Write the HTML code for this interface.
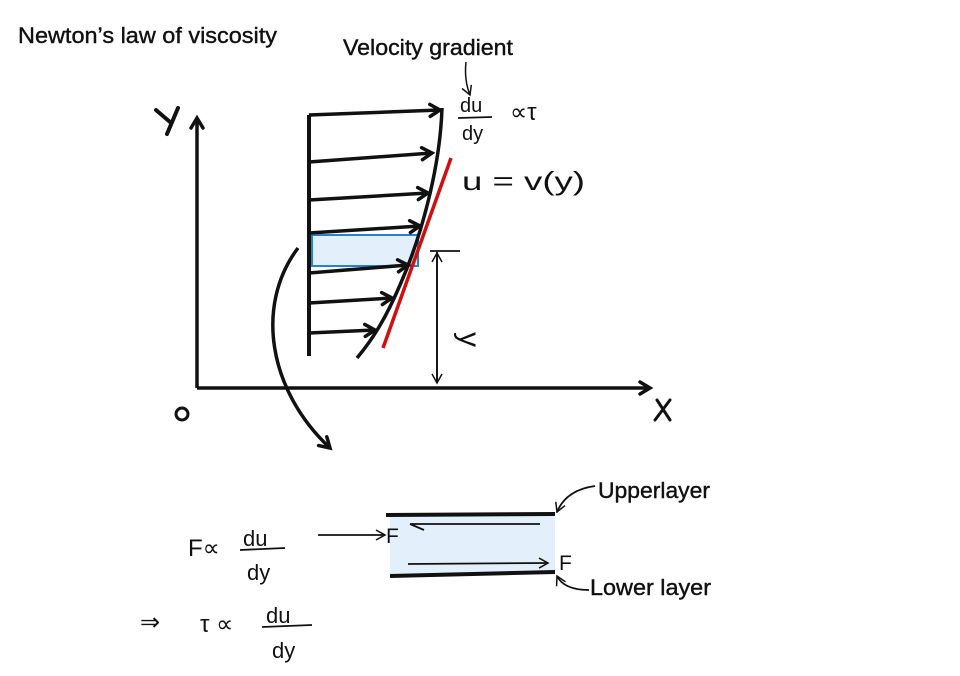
<!DOCTYPE html>
<html><head><meta charset="utf-8"><style>
html,body{margin:0;padding:0;background:#fff;}
svg{display:block;}
text{font-family:"Liberation Sans",sans-serif;fill:#111;}
</style></head><body>
<svg width="960" height="676" viewBox="0 0 960 676" xmlns="http://www.w3.org/2000/svg">
<defs>
<marker id="ah" markerWidth="10" markerHeight="10" refX="8" refY="5" orient="auto" markerUnits="userSpaceOnUse">
<path d="M1,1 L8,5 L1,9" fill="none" stroke="#111" stroke-width="2"/></marker>
<marker id="ahb" markerWidth="16" markerHeight="16" refX="12" refY="8" orient="auto" markerUnits="userSpaceOnUse">
<path d="M2,2 L12,8 L2,14" fill="none" stroke="#111" stroke-width="3.5" stroke-linecap="round"/></marker>
<marker id="ahs" markerWidth="12" markerHeight="12" refX="10" refY="6" orient="auto" markerUnits="userSpaceOnUse">
<path d="M1,1 L10,6 L1,11" fill="none" stroke="#111" stroke-width="1.5"/></marker>
</defs>

<text x="18" y="43" font-size="22" textLength="259" lengthAdjust="spacingAndGlyphs" stroke="#111" stroke-width="0.4">Newton’s law of viscosity</text>
<text x="343" y="55" font-size="22" textLength="170" lengthAdjust="spacingAndGlyphs" stroke="#111" stroke-width="0.4">Velocity gradient</text>
<path d="M466,62 Q464,80 470,95" fill="none" stroke="#111" stroke-width="1.5" marker-end="url(#ahs)"/>

<!-- axes -->
<line x1="197" y1="388" x2="197" y2="118" stroke="#111" stroke-width="3.5" marker-end="url(#ahb)"/>
<line x1="197" y1="388" x2="650" y2="388" stroke="#111" stroke-width="3.5" marker-end="url(#ahb)"/>
<path d="M156,110 L170,122 M178,108 L167,134" stroke="#111" stroke-width="4" fill="none" stroke-linecap="round"/>
<path d="M657,400 L670,420 M670,400 L655,420" stroke="#111" stroke-width="3" fill="none" stroke-linecap="round"/>
<circle cx="182" cy="414" r="6" fill="none" stroke="#111" stroke-width="3"/>

<!-- profile -->
<rect x="312" y="235" width="106" height="31" fill="#e3f0fc" stroke="#2a7fd0" stroke-width="2"/>
<line x1="309" y1="115" x2="309" y2="356" stroke="#111" stroke-width="4"/>
<g stroke="#111" stroke-width="3.5" fill="none" marker-end="url(#ahb)">
<line x1="309" y1="115" x2="440" y2="110"/>
<line x1="309" y1="162" x2="432" y2="153"/>
<line x1="309" y1="200" x2="428" y2="193"/>
<line x1="309" y1="233" x2="420" y2="226"/>
<line x1="309" y1="273" x2="408" y2="265"/>
<line x1="309" y1="303" x2="392" y2="298"/>
<line x1="309" y1="333" x2="375" y2="330"/>
</g>
<path d="M442,108 C440,170 420,240 400,285 C385,320 372,340 357,358" fill="none" stroke="#111" stroke-width="3.5"/>
<line x1="451" y1="158" x2="383" y2="348" stroke="#d01010" stroke-width="3.5"/>

<!-- y dimension -->
<line x1="430" y1="251" x2="460" y2="251" stroke="#111" stroke-width="1.8"/>
<line x1="437" y1="252" x2="437" y2="383" stroke="#111" stroke-width="1.8" marker-end="url(#ahs)"/>
<line x1="437" y1="383" x2="437" y2="253" stroke="#111" stroke-width="1.8" marker-end="url(#ahs)"/>
<text x="446" y="330" font-size="30" transform="rotate(90 452 338)">y</text>

<!-- du/dy top -->
<text x="460" y="112" font-size="20">du</text>
<line x1="458" y1="118" x2="492" y2="117" stroke="#111" stroke-width="1.8"/>
<text x="462" y="140" font-size="20">dy</text>
<text x="510" y="120" font-size="24">∝τ</text>
<text x="462" y="190" font-size="26" textLength="123" lengthAdjust="spacingAndGlyphs">u = v(y)</text>

<!-- curved arrow -->
<path d="M298,248 C255,305 268,390 330,448" fill="none" stroke="#111" stroke-width="3.5" marker-end="url(#ahb)"/>

<!-- bottom block -->
<rect x="390" y="516" width="165" height="58" fill="#e3f0fc"/>
<line x1="386" y1="515" x2="555" y2="514" stroke="#111" stroke-width="4"/>
<line x1="390" y1="576" x2="555" y2="572" stroke="#111" stroke-width="4"/>
<path d="M540,524 L410,524 M410,524 L424,530" stroke="#111" stroke-width="1.8" fill="none"/>
<line x1="408" y1="564" x2="548" y2="563" stroke="#111" stroke-width="1.8" marker-end="url(#ahs)"/>
<text x="386" y="543" font-size="21">F</text>
<text x="559" y="570" font-size="21">F</text>
<line x1="318" y1="535" x2="385" y2="535" stroke="#111" stroke-width="1.8" marker-end="url(#ahs)"/>
<text x="598" y="498" font-size="22" textLength="112" lengthAdjust="spacingAndGlyphs" stroke="#111" stroke-width="0.4">Upperlayer</text>
<path d="M595,486 Q566,490 557,512" fill="none" stroke="#111" stroke-width="1.8" marker-end="url(#ahs)"/>
<text x="590" y="595" font-size="22" textLength="121" lengthAdjust="spacingAndGlyphs" stroke="#111" stroke-width="0.4">Lower layer</text>
<path d="M589,590 Q564,590 557,576" fill="none" stroke="#111" stroke-width="1.8" marker-end="url(#ahs)"/>

<!-- formulas -->
<text x="188" y="556" font-size="24">F∝</text>
<text x="243" y="546" font-size="22">du</text>
<line x1="240" y1="550" x2="285" y2="548" stroke="#111" stroke-width="1.8"/>
<text x="247" y="580" font-size="22">dy</text>
<text x="140" y="630" font-size="24">⇒</text>
<text x="200" y="632" font-size="24">τ ∝</text>
<text x="266" y="623" font-size="22">du</text>
<line x1="262" y1="627" x2="312" y2="625" stroke="#111" stroke-width="1.8"/>
<text x="272" y="658" font-size="22">dy</text>
</svg>
</body></html>
